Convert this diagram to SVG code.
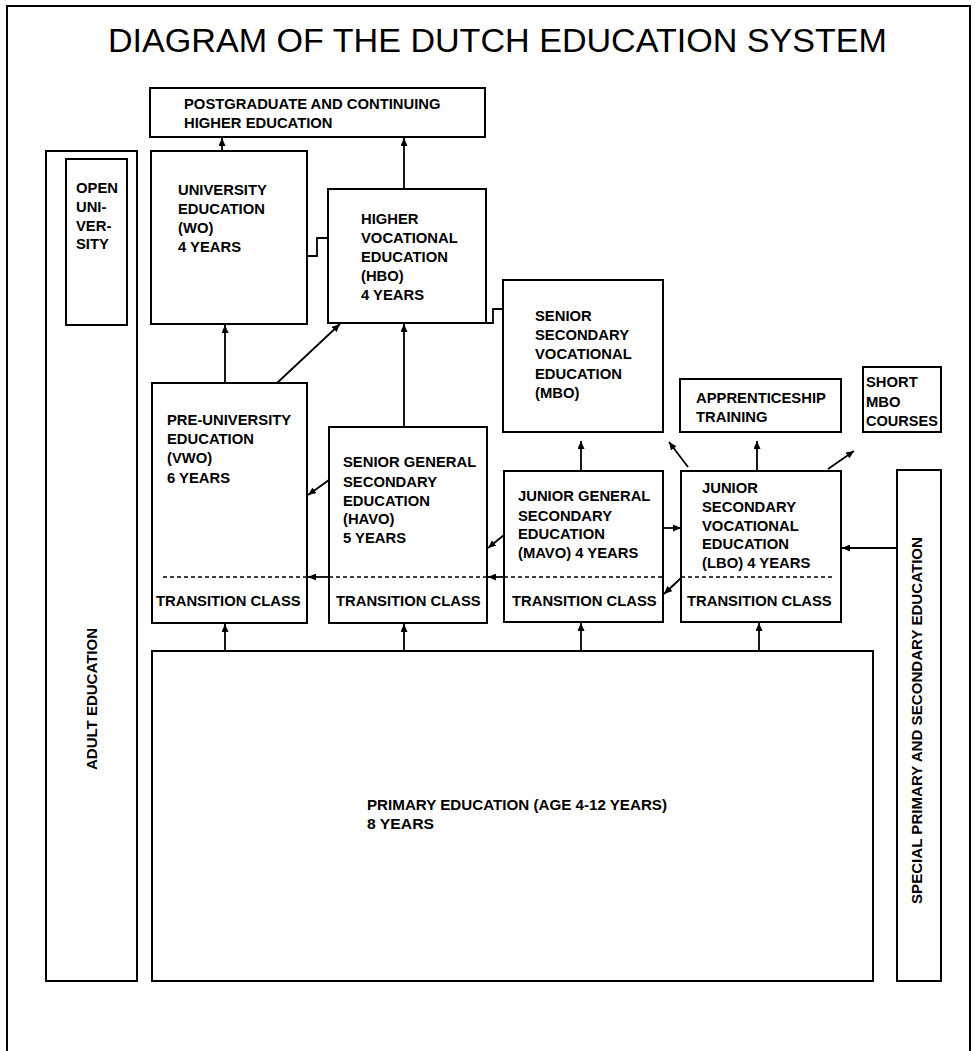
<svg xmlns="http://www.w3.org/2000/svg" width="976" height="1051" viewBox="0 0 976 1051">
<defs>
<marker id="ah" markerUnits="userSpaceOnUse" markerWidth="9" markerHeight="7" refX="8" refY="3.5" orient="auto">
<path d="M0,0 L8,3.5 L0,7 Z" fill="#000"/>
</marker>
<style>
.box{fill:#fff;stroke:#000;stroke-width:2}
.t{font-family:"Liberation Sans",Arial,sans-serif;font-weight:bold;font-size:14.8px;fill:#000}
.title{font-family:"Liberation Sans",Arial,sans-serif;font-size:34px;fill:#000}
.c{fill:none;stroke:#000;stroke-width:1.8}
.a{marker-end:url(#ah)}
.dash{fill:none;stroke:#000;stroke-width:1.6;stroke-dasharray:4 3}
</style>
</defs>
<rect width="976" height="1051" fill="#fff"/>
<path d="M7,1051 V6 H970 V1051" fill="none" stroke="#000" stroke-width="2"/>
<text class="title" x="108" y="52" textLength="779" lengthAdjust="spacingAndGlyphs">DIAGRAM OF THE DUTCH EDUCATION SYSTEM</text>

<g id="adult"><rect class="box" x="46" y="151" width="91" height="830"/>
<text class="t" transform="translate(97,770) rotate(-90)" textLength="142" lengthAdjust="spacingAndGlyphs">ADULT EDUCATION</text></g>
<g id="open-university"><rect class="box" x="66" y="159" width="61" height="166"/>
<text class="t" x="76" y="193">OPEN</text><text class="t" x="76" y="212">UNI-</text><text class="t" x="76" y="231">VER-</text><text class="t" x="76" y="249">SITY</text></g>
<g id="postgraduate"><rect class="box" x="150" y="88" width="335" height="49"/>
<text class="t" x="184" y="109">POSTGRADUATE AND CONTINUING</text><text class="t" x="184" y="128">HIGHER EDUCATION</text></g>
<g id="wo"><rect class="box" x="151" y="151" width="156" height="173"/>
<text class="t" x="178" y="195">UNIVERSITY</text><text class="t" x="178" y="214">EDUCATION</text><text class="t" x="178" y="233">(WO)</text><text class="t" x="178" y="252">4 YEARS</text></g>
<g id="hbo"><rect class="box" x="328" y="189" width="158" height="134"/>
<text class="t" x="361" y="224">HIGHER</text><text class="t" x="361" y="243">VOCATIONAL</text><text class="t" x="361" y="262">EDUCATION</text><text class="t" x="361" y="281">(HBO)</text><text class="t" x="361" y="300">4 YEARS</text></g>
<g id="mbo"><rect class="box" x="503" y="280" width="160" height="152"/>
<text class="t" x="535" y="321">SENIOR</text><text class="t" x="535" y="340">SECONDARY</text><text class="t" x="535" y="359">VOCATIONAL</text><text class="t" x="535" y="379">EDUCATION</text><text class="t" x="535" y="398">(MBO)</text></g>
<g id="apprenticeship"><rect class="box" x="680" y="379" width="161" height="53"/>
<text class="t" x="696" y="403">APPRENTICESHIP</text><text class="t" x="696" y="422">TRAINING</text></g>
<g id="short-mbo"><rect class="box" x="863" y="367" width="78" height="65"/>
<text class="t" x="866" y="387">SHORT</text><text class="t" x="866" y="407">MBO</text><text class="t" x="866" y="426" textLength="72" lengthAdjust="spacingAndGlyphs">COURSES</text></g>
<g id="vwo"><rect class="box" x="152" y="383" width="155" height="240"/>
<text class="t" x="167" y="425">PRE-UNIVERSITY</text><text class="t" x="167" y="444">EDUCATION</text><text class="t" x="167" y="463">(VWO)</text><text class="t" x="167" y="483">6 YEARS</text>
<line class="dash" x1="163" y1="577" x2="307" y2="577"/>
<text class="t" x="156" y="606">TRANSITION CLASS</text></g>
<g id="havo"><rect class="box" x="329" y="427" width="158" height="196"/>
<text class="t" x="343" y="467">SENIOR GENERAL</text><text class="t" x="343" y="487">SECONDARY</text><text class="t" x="343" y="506">EDUCATION</text><text class="t" x="343" y="524">(HAVO)</text><text class="t" x="343" y="543">5 YEARS</text>
<line class="dash" x1="329" y1="577" x2="487" y2="577"/>
<text class="t" x="336" y="606">TRANSITION CLASS</text></g>
<g id="mavo"><rect class="box" x="504" y="471" width="159" height="151"/>
<text class="t" x="518" y="501">JUNIOR GENERAL</text><text class="t" x="518" y="521">SECONDARY</text><text class="t" x="518" y="539">EDUCATION</text><text class="t" x="518" y="558">(MAVO) 4 YEARS</text>
<line class="dash" x1="504" y1="577" x2="663" y2="577"/>
<text class="t" x="512" y="606">TRANSITION CLASS</text></g>
<g id="lbo"><rect class="box" x="681" y="471" width="160" height="151"/>
<text class="t" x="702" y="493">JUNIOR</text><text class="t" x="702" y="512">SECONDARY</text><text class="t" x="702" y="531">VOCATIONAL</text><text class="t" x="702" y="549">EDUCATION</text><text class="t" x="702" y="568">(LBO) 4 YEARS</text>
<line class="dash" x1="681" y1="577" x2="835" y2="577"/>
<text class="t" x="687" y="606">TRANSITION CLASS</text></g>
<g id="special"><rect class="box" x="897" y="470" width="44" height="511"/>
<text class="t" transform="translate(922,904) rotate(-90)" textLength="367" lengthAdjust="spacingAndGlyphs">SPECIAL PRIMARY AND SECONDARY EDUCATION</text></g>
<g id="primary"><rect class="box" x="152" y="651" width="721" height="330"/>
<text class="t" x="367" y="810" textLength="300" lengthAdjust="spacingAndGlyphs">PRIMARY EDUCATION (AGE 4-12 YEARS)</text><text class="t" x="367" y="829" textLength="67" lengthAdjust="spacingAndGlyphs">8 YEARS</text></g>

<g id="connectors">
<line class="c a" x1="222" y1="151" x2="222" y2="138"/>
<line class="c a" x1="404" y1="189" x2="404" y2="138"/>
<polyline class="c" points="307,256 317,256 317,238 328,238"/>
<polyline class="c" points="486,323 493,323 493,309 503,309"/>
<line class="c a" x1="225" y1="383" x2="225" y2="325"/>
<line class="c a" x1="277" y1="383" x2="340" y2="324"/>
<line class="c a" x1="404" y1="427" x2="404" y2="324"/>
<line class="c a" x1="329" y1="480" x2="308" y2="495"/>
<line class="c a" x1="504" y1="535" x2="488" y2="548"/>
<line class="c a" x1="581" y1="471" x2="581" y2="441"/>
<line class="c a" x1="663" y1="528" x2="681" y2="528"/>
<line class="c a" x1="681" y1="578" x2="664" y2="594"/>
<line class="c a" x1="757" y1="471" x2="757" y2="441"/>
<line class="c a" x1="688" y1="467" x2="669" y2="442"/>
<line class="c a" x1="828" y1="469" x2="854" y2="451"/>
<line class="c a" x1="897" y1="548" x2="842" y2="548"/>
<line class="c a" x1="329" y1="577" x2="308" y2="577"/>
<line class="c a" x1="504" y1="577" x2="488" y2="577"/>
<line class="c a" x1="225" y1="651" x2="225" y2="624"/>
<line class="c a" x1="404" y1="651" x2="404" y2="624"/>
<line class="c a" x1="581" y1="651" x2="581" y2="623"/>
<line class="c a" x1="759" y1="651" x2="759" y2="623"/>
</g>
</svg>
